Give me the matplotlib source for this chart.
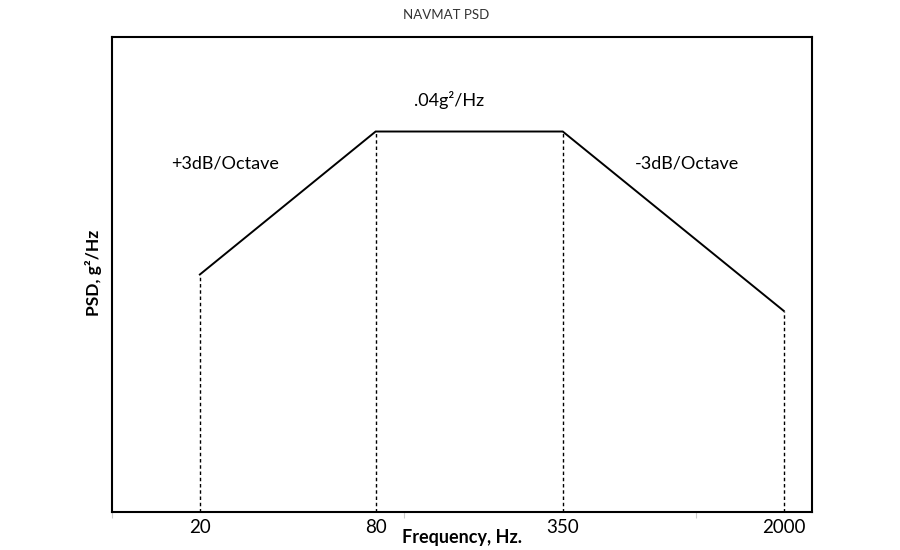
import matplotlib
matplotlib.use("Agg")
import matplotlib.pyplot as plt

freq = [20, 80, 350, 2000]
psd = [0.01, 0.04, 0.04, 0.00703]
tick_labels = ["20", "80", "350", "2000"]

plt.rcParams['font.family'] = ['Lato', 'DejaVu Sans']

fig = plt.figure(figsize=(9, 5.5), dpi=100)
ax = fig.add_axes([112/900, 38/550, 700/900, 475/550])
ax.set_xscale('log')
ax.set_yscale('log')
ax.set_xlim(10, 2500)
ax.set_ylim(0.001, 0.1)

ax.plot(freq, psd, color='black', lw=1.4, solid_joinstyle='miter')
for f, p in zip(freq, psd):
    ax.plot([f, f], [0.001, p], color='black', lw=1.0, ls=(0, (2.5, 2)))

for s in ax.spines.values():
    s.set_linewidth(1.5)
    s.set_color('black')

ax.yaxis.set_visible(False)
ax.set_xticks([10, 100, 1000], minor=False)
ax.set_xticks(freq, minor=True)
ax.set_xticklabels(['', '', ''])
ax.set_xticklabels(tick_labels, minor=True)
ax.tick_params(axis='x', which='major', length=4, color='#cccccc', width=0.8)
ax.tick_params(axis='x', which='minor', length=0, labelsize=13.5, pad=5)

ax.text(142.6, 0.0543, ".04g²/Hz", ha='center', va='center', fontsize=13)
ax.text(24.4, 0.0294, "+3dB/Octave", ha='center', va='center', fontsize=13)
ax.text(933, 0.0294, "-3dB/Octave", ha='center', va='center', fontsize=13)

fig.text(446/900, 1 - 15/550, "NAVMAT PSD", ha='center', va='center', fontsize=9.5, color='#333333')
fig.text(462/900, 1 - 537/550, "Frequency, Hz.", ha='center', va='center', fontsize=13, fontweight='bold')
fig.text(93/900, 1 - 273/550, "PSD, g²/Hz", ha='center', va='center', fontsize=12.5, fontweight='bold', rotation=90)

fig.savefig("out.png", dpi=100, facecolor='white')
